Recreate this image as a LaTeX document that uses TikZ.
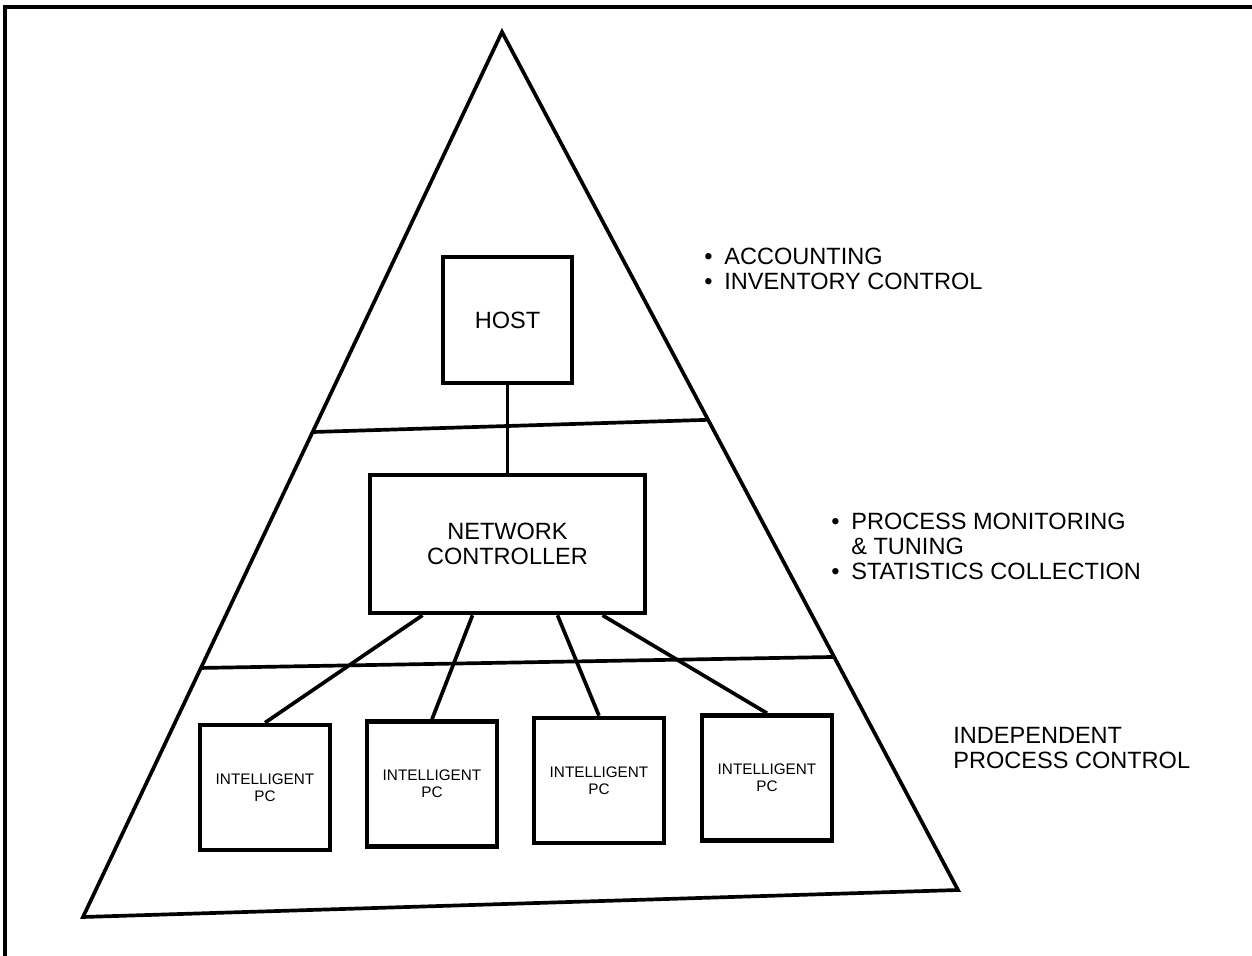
\documentclass[tikz,border=0pt]{standalone}
\usepackage{fontspec}
\setmainfont{Liberation Sans}
\usetikzlibrary{positioning}
\usetikzlibrary{calc}

\newcommand{\dotitem}{\textbullet\hspace{0.5em}}
\tikzset{
    unitbox/.style={draw,line width=2.6pt,align=center,inner sep=0pt,
        font=\fontsize{13.4}{14.2}\selectfont},
    pcbox/.style={unitbox,minimum width=2.6cm,minimum height=2.5cm,
        font=\fontsize{8.7}{9.6}\selectfont},
    notes/.style={anchor=north west,inner sep=0pt,align=left,
        font=\fontsize{13.4}{14.2}\selectfont},
    link/.style={line width=2.1pt}
}

\begin{document}
\begin{tikzpicture}[x=0.02cm,y=-0.02cm]
    \useasboundingbox (0,0) rectangle (1252,956);
    % Frame
    \draw [line width=2pt] (5,956) -- (5,7) -- (1252,7);
    % Pyramid and its levels
    \coordinate (apex) at (502,32);
    \coordinate (bl) at (83,917);
    \coordinate (br) at (958,890);
    \draw [link] (apex) -- (bl) -- (br) -- cycle;
    \draw [link] ($(apex)!0.452!(bl)$) -- ($(apex)!0.452!(br)$);
    \draw [link] ($(apex)!0.7186!(bl)$) -- ($(apex)!0.7284!(br)$);
    % Boxes
    \node (host) at (507.5,320) [unitbox,minimum width=2.58cm,minimum height=2.52cm] {HOST};
    \node (nc) at (507.5,544) [unitbox,minimum width=5.5cm,minimum height=2.76cm]
        {NETWORK\\CONTROLLER};
    \node (pc1) at (265,787.5) [pcbox] {INTELLIGENT\\PC};
    \node (pc2) at (432,784) [pcbox] {INTELLIGENT\\PC};
    \node (pc3) at (599,780.5) [pcbox] {INTELLIGENT\\PC};
    \node (pc4) at (767,778) [pcbox] {INTELLIGENT\\PC};
    % Links
    \draw [link] (host.south) -- (nc.north);
    \foreach \i/\dx in {1/-85,2/-35,3/50,4/95}
        \draw [link] ($(nc.south)+(\dx,0)$) -- (pc\i.north);
    % Functions of each level
    \node (acct) at (704,248) [notes]
        {\dotitem ACCOUNTING\\\dotitem INVENTORY CONTROL};
    \node (proc) at (831,513) [notes]
        {\dotitem PROCESS MONITORING\\\phantom{\dotitem}\& TUNING\\\dotitem STATISTICS COLLECTION};
    \node (indep) at (953,727) [notes] {INDEPENDENT\\PROCESS CONTROL};
\end{tikzpicture}
\end{document}
